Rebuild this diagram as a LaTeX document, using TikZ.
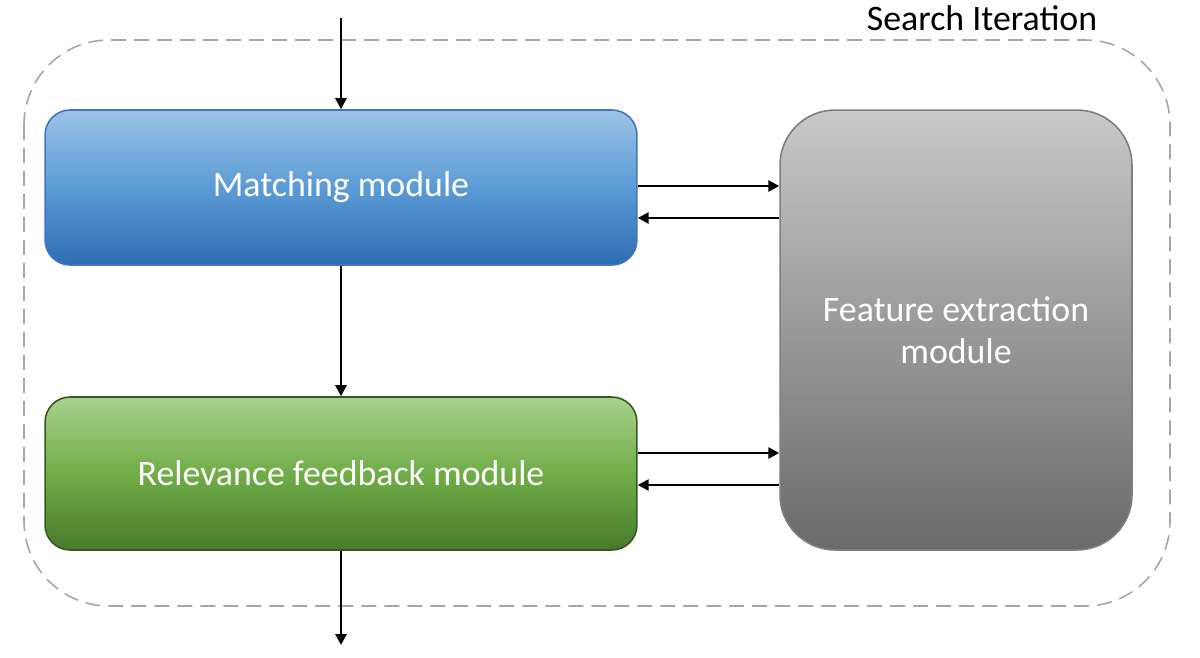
\documentclass[tikz,border=0pt]{standalone}
\usepackage{fontspec}
\setmainfont{Carlito}
\usepackage{tikz}
\usetikzlibrary{arrows.meta, positioning, calc}
\definecolor{searchgrey}{HTML}{A6A6A6}
\definecolor{matchtop}{HTML}{9DC3E6}
\definecolor{matchmid}{HTML}{5B9BD5}
\definecolor{matchbot}{HTML}{2E6DB0}
\definecolor{matchline}{HTML}{4472C4}
\definecolor{relevtop}{HTML}{A9D18E}
\definecolor{relevmid}{HTML}{70AD47}
\definecolor{relevbot}{HTML}{4A7A2C}
\definecolor{relevline}{HTML}{385723}
\definecolor{feattop}{HTML}{C8C8C8}
\definecolor{featbot}{HTML}{6A6A6A}
\definecolor{featline}{HTML}{7F7F7F}
\tikzset{
  modbox/.style={rounded corners=0.5cm, line width=0.9pt, align=center,
    text=white, font=\fontsize{20.4}{24}\selectfont},
  flow/.style={-{Triangle[length=0.22cm, width=0.22cm]}, line width=1.5pt, black}
}
\begin{document}
\begin{tikzpicture}[x=0.02cm, y=-0.02cm]
  \useasboundingbox (0,0) rectangle (1200,657);
  % search iteration frame
  \draw[searchgrey, line width=0.9pt, dash pattern=on 0.3cm off 0.16cm,
    rounded corners=1.7cm] (24,40) rectangle (1170,606);
  \node[font=\fontsize{20.4}{24}\selectfont] (iterlabel) at (982,18) {Search Iteration};
  % modules
  \node[modbox, draw=matchline, top color=matchtop, bottom color=matchbot, middle color=matchmid,
    minimum width=11.84cm, minimum height=3.1cm] (matching) at (341,187.5) {Matching module};
  \node[modbox, draw=relevline, top color=relevtop, bottom color=relevbot, middle color=relevmid,
    minimum width=11.84cm, minimum height=3.06cm] (relevance) at (341,473.5) {Relevance feedback module};
  \node[modbox, draw=featline, top color=feattop, bottom color=featbot, rounded corners=1.1cm,
    minimum width=7.04cm, minimum height=8.8cm] (feature) at (956,330) {Feature extraction\\module};
  \coordinate (input) at (341,18);
  \coordinate (output) at (341,645);
  % connectors
  \draw[flow] (input) -- (matching.north);
  \draw[flow] (matching.south) -- (relevance.north);
  \draw[flow] (relevance.south) -- (output);
  \draw[flow] ([yshift=0.03cm]matching.east) -- ([yshift=0.03cm]matching.east -| feature.west);
  \draw[flow] ([yshift=-0.61cm]matching.east -| feature.west) -- ([yshift=-0.61cm]matching.east);
  \draw[flow] ([yshift=0.41cm]relevance.east) -- ([yshift=0.41cm]relevance.east -| feature.west);
  \draw[flow] ([yshift=-0.23cm]relevance.east -| feature.west) -- ([yshift=-0.23cm]relevance.east);
\end{tikzpicture}
\end{document}
